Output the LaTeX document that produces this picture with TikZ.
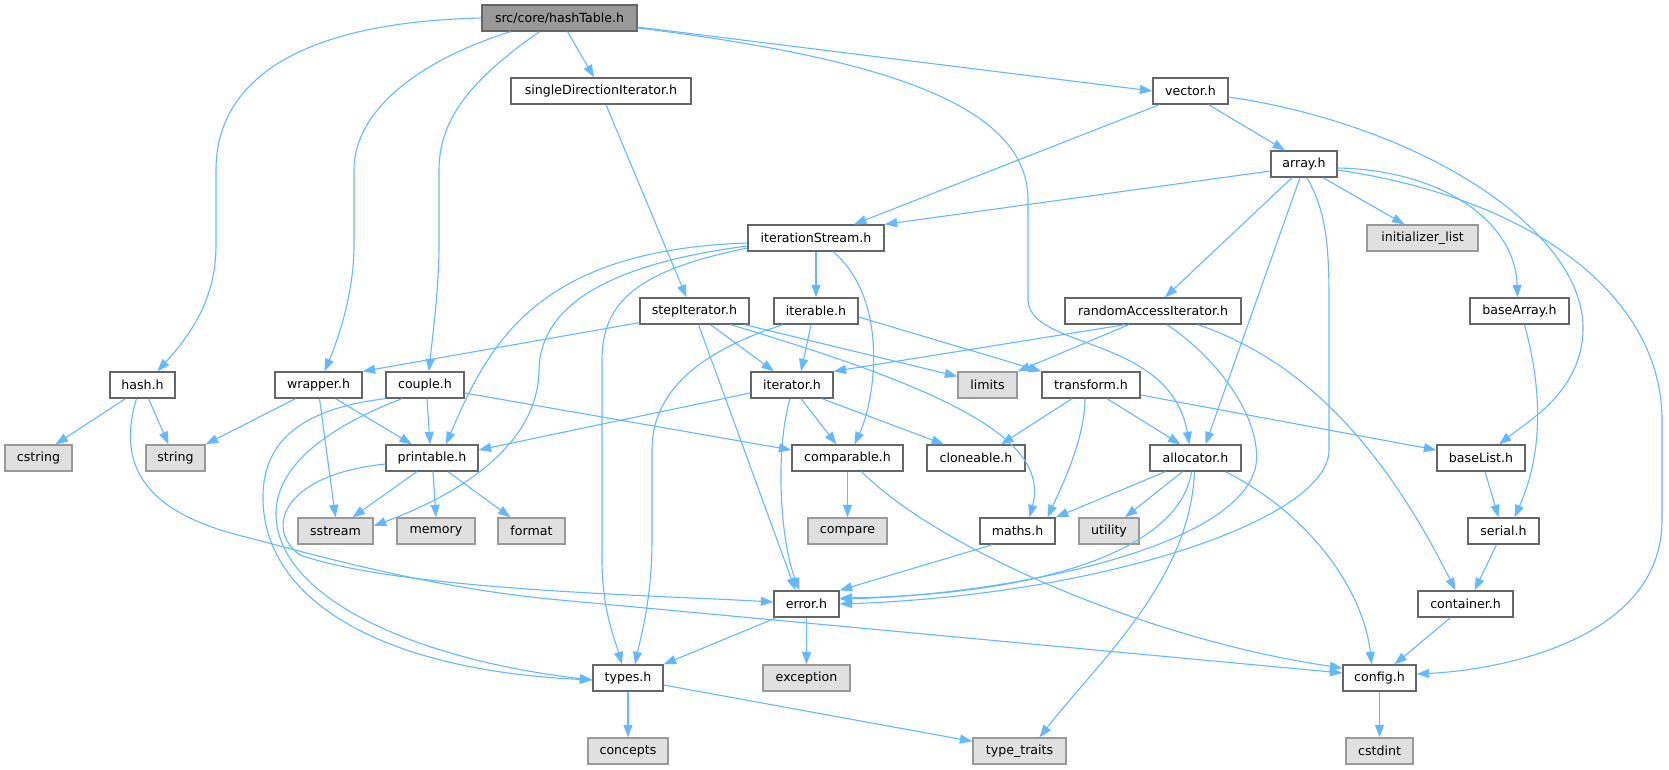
\documentclass[tikz,border=0pt]{standalone}
\usepackage{fontspec}
\setmainfont{DejaVu Sans}
\usetikzlibrary{arrows.meta}
\definecolor{edgeblue}{HTML}{63B8FF}
\definecolor{nodeline}{HTML}{666666}
\definecolor{sysline}{HTML}{999999}
\definecolor{sysfill}{HTML}{E0E0E0}
\definecolor{rootfill}{HTML}{999999}

\begin{document}
\begin{tikzpicture}[x=1pt,y=-1pt,
  hdr/.style={draw=nodeline,fill=white,line width=1.3pt,minimum height=26pt,inner sep=0pt,font=\fontsize{12.6}{15}\selectfont},
  sys/.style={hdr,draw=sysline,fill=sysfill},
  root/.style={hdr,fill=rootfill},
  boxw/.style={minimum width=#1pt},
  inc/.style={draw=edgeblue,line width=1.1pt,-{Triangle[length=12.5pt,width=9pt]}}]
  \useasboundingbox (0,0) rectangle (1669,769);

  \node[root,boxw=155] (hashtable) at (559.5,18) {src/core/hashTable.h};
  \node[hdr,boxw=180] (single) at (601,91) {singleDirectionIterator.h};
  \node[hdr,boxw=75] (vector) at (1190.5,91) {vector.h};
  \node[hdr,boxw=66] (array) at (1304,164) {array.h};
  \node[hdr,boxw=136] (itstream) at (816,238) {iterationStream.h};
  \node[sys,boxw=111] (initlist) at (1422.5,238) {initializer\_list};
  \node[hdr,boxw=109] (stepit) at (694.5,311) {stepIterator.h};
  \node[hdr,boxw=84] (iterable) at (816,311) {iterable.h};
  \node[hdr,boxw=176] (randacc) at (1153,311) {randomAccessIterator.h};
  \node[hdr,boxw=99] (basearray) at (1519.5,311) {baseArray.h};
  \node[hdr,boxw=65] (hash) at (142.5,385) {hash.h};
  \node[hdr,boxw=87] (wrapper) at (318.5,385) {wrapper.h};
  \node[hdr,boxw=78] (couple) at (425,385) {couple.h};
  \node[hdr,boxw=82] (iterator) at (792,385) {iterator.h};
  \node[sys,boxw=59] (limits) at (987.5,385) {limits};
  \node[hdr,boxw=98] (transform) at (1091,385) {transform.h};
  \node[sys,boxw=67] (cstring) at (38.5,458) {cstring};
  \node[sys,boxw=59] (string) at (175.5,458) {string};
  \node[hdr,boxw=92] (printable) at (432,458) {printable.h};
  \node[hdr,boxw=111] (comparable) at (847.5,458) {comparable.h};
  \node[hdr,boxw=98] (cloneable) at (976,458) {cloneable.h};
  \node[hdr,boxw=91] (allocator) at (1195.5,458) {allocator.h};
  \node[hdr,boxw=88] (baselist) at (1481,458) {baseList.h};
  \node[sys,boxw=75] (sstream) at (335.5,531) {sstream};
  \node[sys,boxw=78] (memory) at (436,531) {memory};
  \node[sys,boxw=67] (format) at (531.5,531) {format};
  \node[sys,boxw=79] (compare) at (847.5,531) {compare};
  \node[hdr,boxw=75] (maths) at (1017.5,531) {maths.h};
  \node[sys,boxw=60] (utility) at (1109,531) {utility};
  \node[hdr,boxw=71] (serial) at (1503.5,531) {serial.h};
  \node[hdr,boxw=65] (error) at (806.5,604) {error.h};
  \node[hdr,boxw=95] (container) at (1465.5,604) {container.h};
  \node[hdr,boxw=70] (types) at (628,678) {types.h};
  \node[sys,boxw=87] (exception) at (806.5,678) {exception};
  \node[hdr,boxw=73] (config) at (1379.5,678) {config.h};
  \node[sys,boxw=80] (concepts) at (628,751) {concepts};
  \node[sys,boxw=93] (typetraits) at (1019.5,751) {type\_traits};
  \node[sys,boxw=67] (cstdint) at (1379.5,751) {cstdint};

  \draw[inc] (hashtable.west) .. controls (300,22) and (216,80) .. (216,170) -- (216,245) .. controls (216,300) and (190,335) .. ([xshift=15pt]hash.north);
  \draw[inc] ([xshift=-49pt]hashtable.south) .. controls (420,60) and (354,110) .. (354,170) -- (354,245) .. controls (354,290) and (340,335) .. ([xshift=6pt]wrapper.north);
  \draw[inc] ([xshift=-20pt]hashtable.south) .. controls (470,80) and (439,120) .. (439,170) -- (439,245) .. controls (439,290) and (432,340) .. ([xshift=4pt]couple.north);
  \draw[inc] ([xshift=8pt]hashtable.south) -- ([xshift=-7pt]single.north);
  \draw[inc] ([yshift=-9pt]hashtable.east) -- (vector.west);
  \draw[inc] ([yshift=-10pt]hashtable.east) .. controls (900,60) and (1028,110) .. (1028,200) -- (1028,300) .. controls (1030,350) and (1170,335) .. ([xshift=-6pt]allocator.north);

  \draw[inc] ([xshift=5pt]single.south) -- ([xshift=-8pt]stepit.north);
  \draw[inc] ([xshift=-31pt]vector.south) -- ([xshift=38pt]itstream.north);
  \draw[inc] ([xshift=18pt]vector.south) -- ([xshift=-19pt]array.north);
  \draw[inc] ([yshift=-6pt]vector.east) .. controls (1420,125) and (1585,230) .. (1583,330) .. controls (1582,390) and (1530,420) .. ([xshift=18pt]baselist.north);

  \draw[inc] ([yshift=-7pt]array.west) -- (itstream.north east);
  \draw[inc] ([xshift=19pt]array.south) -- ([xshift=-18pt]initlist.north);
  \draw[inc] ([yshift=-4pt]array.east) .. controls (1440,170) and (1515,220) .. ([xshift=-2pt]basearray.north);
  \draw[inc] ([xshift=-12pt]array.south) -- ([xshift=12pt]randacc.north);
  \draw[inc] ([xshift=-4pt]array.south) -- ([xshift=10pt]allocator.north);
  \draw[inc] ([xshift=3pt]array.south) .. controls (1325,210) and (1329,240) .. (1329,300) -- (1329,450) .. controls (1329,520) and (1100,595) .. (error.east);
  \draw[inc] ([yshift=-6pt]array.east) .. controls (1540,200) and (1662,300) .. (1662,420) -- (1662,520) .. controls (1662,640) and (1500,670) .. ([yshift=4pt]config.east);

  \draw[inc] (itstream.south) -- (iterable.north);
  \draw[inc] ([xshift=17pt]itstream.south) .. controls (890,300) and (875,400) .. ([xshift=7pt]comparable.north);
  \draw[inc] ([yshift=-5pt]itstream.west) .. controls (540,250) and (490,340) .. ([xshift=14pt]printable.north);
  \draw[inc] ([yshift=-8pt]itstream.west) .. controls (600,265) and (540,310) .. (539,370) .. controls (538,440) and (470,490) .. ([yshift=5pt]sstream.east);
  \draw[inc] ([yshift=-10pt]itstream.west) .. controls (640,270) and (602,300) .. (602,360) -- (602,560) .. controls (602,610) and (615,640) .. ([xshift=-6pt]types.north);

  \draw[inc] ([yshift=2pt]stepit.south west) -- (wrapper.north east);
  \draw[inc] ([xshift=16pt]stepit.south) -- ([xshift=-18pt]iterator.north);
  \draw[inc] ([xshift=50pt]stepit.south) -- ([yshift=-5pt]limits.north west);
  \draw[inc] ([xshift=36pt]stepit.south) .. controls (950,390) and (1050,440) .. ([xshift=12pt]maths.north);
  \draw[inc] ([xshift=4pt]stepit.south) -- ([xshift=-11pt]error.north);

  \draw[inc] ([xshift=-5pt]iterable.south) -- ([xshift=9pt]iterator.north);
  \draw[inc] ([xshift=-33pt]iterable.south) .. controls (720,345) and (652,380) .. (652,450) -- (652,540) .. controls (652,600) and (640,640) .. ([xshift=7pt]types.north);
  \draw[inc] ([yshift=-6pt]iterable.east) -- (transform.north west);

  \draw[inc] ([xshift=-28pt]randacc.south) -- (iterator.north east);
  \draw[inc] ([xshift=-24pt]randacc.south) -- (limits.north east);
  \draw[inc] ([xshift=14pt]randacc.south) .. controls (1220,360) and (1262,420) .. (1256,465) .. controls (1240,550) and (1000,595) .. ([yshift=5pt]error.east);
  \draw[inc] ([xshift=45pt]randacc.south) .. controls (1300,360) and (1380,440) .. ([xshift=-10pt]container.north);
  \draw[inc] ([xshift=5pt]basearray.south) .. controls (1545,400) and (1540,460) .. ([xshift=11pt]serial.north);

  \draw[inc] ([xshift=-19pt]transform.south) -- ([xshift=25pt]cloneable.north);
  \draw[inc] ([xshift=-6pt]transform.south) .. controls (1085,440) and (1060,490) .. ([xshift=30pt]maths.north);
  \draw[inc] ([xshift=16pt]transform.south) -- ([xshift=-15pt]allocator.north);
  \draw[inc] ([yshift=-10pt]transform.east) -- ([yshift=8pt]baselist.west);

  \draw[inc] ([yshift=-8pt]iterator.west) -- ([yshift=8pt]printable.east);
  \draw[inc] ([xshift=9pt]iterator.south) -- ([xshift=-11pt]comparable.north);
  \draw[inc] ([xshift=30pt]iterator.south) -- ([xshift=-32pt]cloneable.north);
  \draw[inc] ([xshift=-2pt]iterator.south) .. controls (775,450) and (780,540) .. ([xshift=-7pt]error.north);

  \draw[inc] ([xshift=-30pt]allocator.south) -- (maths.north east);
  \draw[inc] ([xshift=-13pt]allocator.south) -- ([xshift=16pt]utility.north);
  \draw[inc] ([xshift=-4pt]allocator.south) .. controls (1180,550) and (1040,595) .. ([yshift=6pt]error.east);
  \draw[inc] ([xshift=-1pt]allocator.south) .. controls (1190,580) and (1100,660) .. ([xshift=20pt]typetraits.north);
  \draw[inc] ([xshift=30pt]allocator.south) .. controls (1320,520) and (1365,600) .. ([xshift=-8pt]config.north);

  \draw[inc] ([xshift=-25pt]maths.south) -- (error.north east);
  \draw[inc] (comparable.south) -- (compare.north);
  \draw[inc] ([xshift=14pt]comparable.south) .. controls (940,550) and (1150,640) .. ([yshift=10pt]config.west);
  \draw[inc] ([xshift=-30pt]error.south) -- (types.north east);
  \draw[inc] (error.south) -- (exception.north);
  \draw[inc] (types.south) -- (concepts.north);
  \draw[inc] ([yshift=-7pt]types.east) -- ([yshift=-4pt]typetraits.north west);
  \draw[inc] ([xshift=4pt]baselist.south) -- ([xshift=-5pt]serial.north);
  \draw[inc] ([xshift=-7pt]serial.south) -- ([xshift=9pt]container.north);
  \draw[inc] ([xshift=-15pt]container.south) -- ([xshift=15pt]config.north);
  \draw[inc] (config.south) -- (cstdint.north);

  \draw[inc] ([xshift=-17pt]hash.south) -- ([xshift=17pt]cstring.north);
  \draw[inc] ([xshift=6pt]hash.south) -- ([xshift=-7pt]string.north);
  \draw[inc] ([xshift=-6pt]hash.south) .. controls (115,470) and (150,515) .. (250,538) .. controls (350,565) and (450,590) .. (560,600) -- ([yshift=5pt]config.west);
  \draw[inc] ([xshift=-23pt]wrapper.south) -- (string.north east);
  \draw[inc] ([xshift=17pt]wrapper.south) -- ([xshift=-20pt]printable.north);
  \draw[inc] ([xshift=1pt]wrapper.south) -- (sstream.north);
  \draw[inc] ([xshift=2pt]couple.south) -- ([xshift=-2pt]printable.north);
  \draw[inc] ([yshift=-8pt]couple.east) -- ([yshift=8pt]comparable.west);
  \draw[inc] (couple.south west) .. controls (290,410) and (262,450) .. (263,500) .. controls (265,600) and (380,670) .. ([yshift=-2pt]types.west);
  \draw[inc] ([xshift=-23pt]couple.south) .. controls (320,430) and (275,470) .. (276,515) .. controls (278,600) and (420,660) .. ([yshift=-2pt]types.west);
  \draw[inc] ([xshift=-15pt]printable.south) -- ([xshift=17pt]sstream.north);
  \draw[inc] ([xshift=1pt]printable.south) -- (memory.north);
  \draw[inc] ([xshift=16pt]printable.south) -- ([xshift=-21pt]format.north);
  \draw[inc] ([yshift=-6pt]printable.west) .. controls (280,475) and (265,530) .. (300,555) .. controls (400,590) and (650,595) .. ([yshift=2pt]error.west);
\end{tikzpicture}
\end{document}
